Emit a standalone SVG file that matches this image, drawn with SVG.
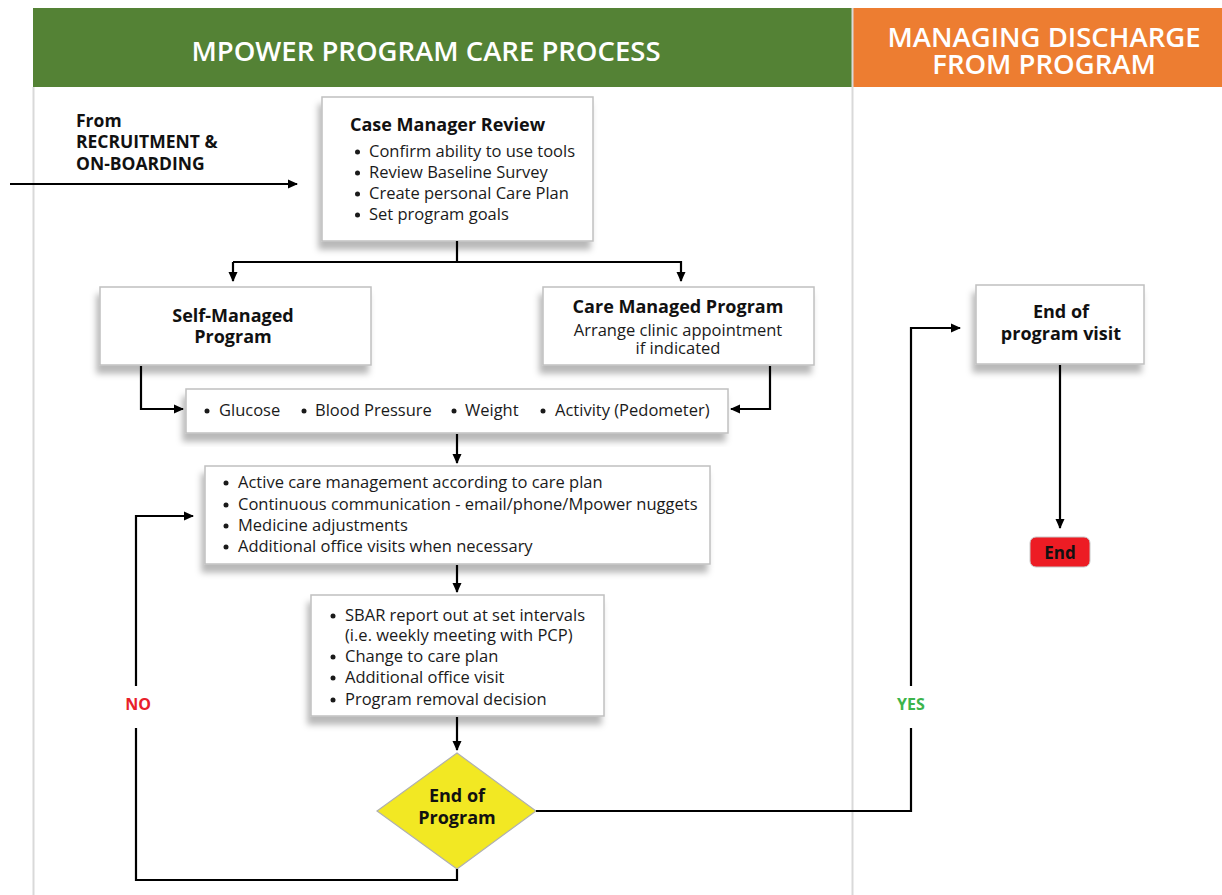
<svg xmlns="http://www.w3.org/2000/svg" width="1222" height="895" viewBox="0 0 1222 895">
<defs>
<filter id="sh" x="-10%" y="-10%" width="125%" height="140%">
<feDropShadow dx="-3" dy="8" stdDeviation="3" flood-color="#000" flood-opacity="0.28"/>
</filter>
<marker id="ah" markerWidth="10" markerHeight="10" refX="9" refY="5" orient="auto" markerUnits="userSpaceOnUse">
<path d="M0,0.5 L10,5 L0,9.5 Z" fill="#000"/>
</marker>
</defs>
<style>
.box{fill:#fff;stroke:#c0c0c0;stroke-width:1.5;filter:url(#sh)}
.t{font-family:"Open Sans","Noto Sans",sans-serif;font-size:16.5px;fill:#1a1a1a}
.b{font-family:"Open Sans","Noto Sans",sans-serif;font-size:18px;font-weight:bold;fill:#111}
.h{font-family:"Open Sans","Noto Sans",sans-serif;font-size:27.5px;font-weight:600;fill:#fff}
.c{text-anchor:middle}
.d{fill:#1a1a1a}
.ln{fill:none;stroke:#000;stroke-width:2.2}
</style>
<rect width="1222" height="895" fill="#fff"/>
<g id="lanes">
<rect x="33" y="8" width="819" height="79" fill="#548235"/>
<rect x="853" y="8" width="369" height="79" fill="#ed7d31"/>
<line x1="33.5" y1="87" x2="33.5" y2="895" stroke="#d9d9d9" stroke-width="2"/>
<line x1="852.5" y1="8" x2="852.5" y2="895" stroke="#d9d9d9" stroke-width="2"/>
<text class="h c" x="426" y="61">MPOWER PROGRAM CARE PROCESS</text>
<text class="h c" x="1044" y="47">MANAGING DISCHARGE</text>
<text class="h c" x="1044" y="74">FROM PROGRAM</text>
</g>
<g id="from">
<text class="b" x="76" y="127" style="font-size:17.5px">From</text>
<text class="b" x="76" y="148" style="font-size:17.5px">RECRUITMENT &amp;</text>
<text class="b" x="76" y="170" style="font-size:17.5px">ON-BOARDING</text>
</g>
<g id="case-manager">
<rect class="box" x="322" y="97" width="271" height="144"/>
<text class="b" x="350" y="131">Case Manager Review</text>
<circle class="d" cx="357.5" cy="152" r="2.5"/><text class="t" x="369" y="157">Confirm ability to use tools</text>
<circle class="d" cx="357.5" cy="173" r="2.5"/><text class="t" x="369" y="178">Review Baseline Survey</text>
<circle class="d" cx="357.5" cy="194" r="2.5"/><text class="t" x="369" y="199">Create personal Care Plan</text>
<circle class="d" cx="357.5" cy="215" r="2.5"/><text class="t" x="369" y="220">Set program goals</text>
</g>
<g id="self-managed">
<rect class="box" x="100" y="287" width="271" height="78"/>
<text class="b c" x="233" y="322">Self-Managed</text>
<text class="b c" x="233" y="343">Program</text>
</g>
<g id="care-managed">
<rect class="box" x="543" y="287" width="271" height="78"/>
<text class="b c" x="678" y="313">Care Managed Program</text>
<text class="t c" x="678" y="336">Arrange clinic appointment</text>
<text class="t c" x="678" y="354">if indicated</text>
</g>
<g id="measures">
<rect class="box" x="186" y="389" width="542" height="44"/>
<circle class="d" cx="207" cy="411" r="2.5"/><text class="t" x="219" y="416">Glucose</text>
<circle class="d" cx="304" cy="411" r="2.5"/><text class="t" x="315" y="416">Blood Pressure</text>
<circle class="d" cx="454" cy="411" r="2.5"/><text class="t" x="465" y="416">Weight</text>
<circle class="d" cx="543" cy="411" r="2.5"/><text class="t" x="555" y="416">Activity (Pedometer)</text>
</g>
<g id="active-care">
<rect class="box" x="205" y="466" width="505" height="98"/>
<circle class="d" cx="226" cy="483" r="2.5"/><text class="t" x="238" y="488">Active care management according to care plan</text>
<circle class="d" cx="226" cy="505" r="2.5"/><text class="t" x="238" y="510">Continuous communication - email/phone/Mpower nuggets</text>
<circle class="d" cx="226" cy="526" r="2.5"/><text class="t" x="238" y="531">Medicine adjustments</text>
<circle class="d" cx="226" cy="547" r="2.5"/><text class="t" x="238" y="552">Additional office visits when necessary</text>
</g>
<g id="sbar">
<rect class="box" x="311" y="595" width="293" height="121"/>
<circle class="d" cx="333" cy="616" r="2.5"/><text class="t" x="345" y="621">SBAR report out at set intervals</text>
<text class="t" x="345" y="641">(i.e. weekly meeting with PCP)</text>
<circle class="d" cx="333" cy="657" r="2.5"/><text class="t" x="345" y="662">Change to care plan</text>
<circle class="d" cx="333" cy="678" r="2.5"/><text class="t" x="345" y="683">Additional office visit</text>
<circle class="d" cx="333" cy="700" r="2.5"/><text class="t" x="345" y="705">Program removal decision</text>
</g>
<g id="end-of-program">
<polygon points="457,753 536,811 457,869 377,811" fill="#f2e823" stroke="#b0b0b0" stroke-width="1.2"/>
<text class="b c" x="457" y="802">End of</text>
<text class="b c" x="457" y="824">Program</text>
</g>
<g id="end-visit">
<rect class="box" x="976" y="285" width="168" height="79"/>
<text class="b c" x="1061" y="318">End of</text>
<text class="b c" x="1061" y="340">program visit</text>
</g>
<g id="end">
<rect x="1030" y="537" width="60" height="30" rx="6" fill="#ed1c24" stroke="#c8c8c8" stroke-width="1"/>
<text class="b c" x="1060" y="559" style="font-size:17px">End</text>
</g>
<g id="connectors">
<line class="ln" x1="10" y1="184" x2="297" y2="184" marker-end="url(#ah)"/>
<polyline class="ln" points="457,241 457,262"/>
<polyline class="ln" points="233,262 681,262 681,281" marker-end="url(#ah)"/>
<line class="ln" x1="233" y1="262" x2="233" y2="281" marker-end="url(#ah)"/>
<polyline class="ln" points="141,366 141,409 183,409" marker-end="url(#ah)"/>
<polyline class="ln" points="770,366 770,409 731,409" marker-end="url(#ah)"/>
<line class="ln" x1="457" y1="434" x2="457" y2="463" marker-end="url(#ah)"/>
<line class="ln" x1="457" y1="565" x2="457" y2="592" marker-end="url(#ah)"/>
<line class="ln" x1="457" y1="717" x2="457" y2="750" marker-end="url(#ah)"/>
<polyline class="ln" points="136,728 136,880 457,880 457,869"/>
<polyline class="ln" points="136,686 136,516 193,516" marker-end="url(#ah)"/>
<polyline class="ln" points="536,811 911,811 911,728"/>
<polyline class="ln" points="911,686 911,328 960,328" marker-end="url(#ah)"/>
<line class="ln" x1="1060" y1="365" x2="1060" y2="528" marker-end="url(#ah)"/>
<text x="138" y="710" text-anchor="middle" font-family="Open Sans, Noto Sans, sans-serif" font-size="16" font-weight="bold" fill="#e8202a">NO</text>
<text x="911" y="710" text-anchor="middle" font-family="Open Sans, Noto Sans, sans-serif" font-size="16" font-weight="bold" fill="#3cb44b">YES</text>
</g>
</svg>
